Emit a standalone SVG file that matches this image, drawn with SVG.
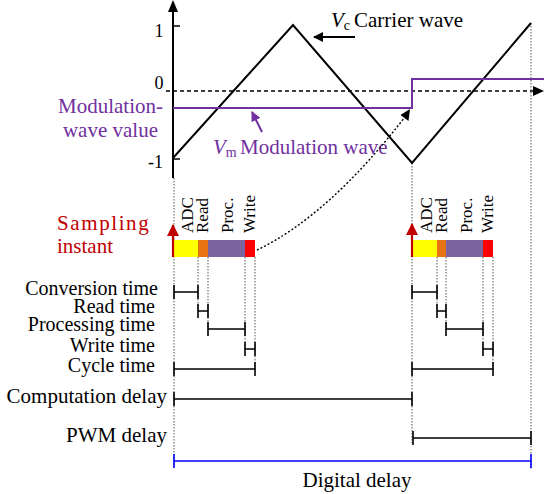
<svg xmlns="http://www.w3.org/2000/svg" width="544" height="494" viewBox="0 0 544 494">
<style>
text{font-family:"Liberation Serif","Times New Roman",serif;fill:#000}
.lbl{font-size:21px}
.stk{font-size:20px}
.num{font-size:18px}
.rot{font-size:17px}
.pur{fill:#7030A0}
.red{fill:#C00000}
.dot{stroke:#555;stroke-width:1;stroke-dasharray:1.5 1.5;fill:none}
.br{stroke:#000;stroke-width:1.6;fill:none}
.wave{stroke:#000;stroke-width:2;fill:none}
</style>
<defs>
<marker id="ahB" markerWidth="10" markerHeight="10" refX="9" refY="5" orient="auto" markerUnits="userSpaceOnUse"><path d="M0,0 L10,5 L0,10 Z" fill="#000"/></marker>
<marker id="ahP" markerWidth="10" markerHeight="10" refX="9" refY="5" orient="auto" markerUnits="userSpaceOnUse"><path d="M0,0 L10,5 L0,10 Z" fill="#7030A0"/></marker>
<marker id="ahR" markerWidth="12" markerHeight="12" refX="11" refY="6" orient="auto" markerUnits="userSpaceOnUse"><path d="M0,0 L12,6 L0,12 Z" fill="#C00000"/></marker>
</defs>

<!-- dotted guide lines -->
<g id="guides">
<line class="dot" x1="174" y1="178" x2="174" y2="467"/>
<line class="dot" x1="198" y1="257" x2="198" y2="311"/>
<line class="dot" x1="208" y1="257" x2="208" y2="330"/>
<line class="dot" x1="245" y1="257" x2="245" y2="350"/>
<line class="dot" x1="255" y1="257" x2="255" y2="370"/>
<line class="dot" x1="412" y1="163" x2="412" y2="443"/>
<line class="dot" x1="437" y1="257" x2="437" y2="311"/>
<line class="dot" x1="446" y1="257" x2="446" y2="330"/>
<line class="dot" x1="483" y1="257" x2="483" y2="350"/>
<line class="dot" x1="493" y1="257" x2="493" y2="370"/>
<line class="dot" x1="531" y1="23" x2="531" y2="470"/>
</g>

<!-- axes -->
<g id="axes">
<line x1="173" y1="178" x2="173" y2="10" stroke="#000" stroke-width="2"/>
<path d="M173,0 L168,12 L178,12 Z" fill="#000"/>
<line x1="173" y1="26" x2="180" y2="26" stroke="#000" stroke-width="1.5"/>
<line x1="173" y1="159" x2="180" y2="159" stroke="#000" stroke-width="1.5"/>
<line x1="166" y1="91" x2="534" y2="91" stroke="#000" stroke-width="1.6" stroke-dasharray="4 3"/>
<path d="M544,91 L533,86 L533,96 Z" fill="#000"/>
<text class="num" x="159" y="37" text-anchor="middle">1</text>
<text class="num" x="159" y="89" text-anchor="middle">0</text>
<text class="num" x="163" y="168" text-anchor="end">-1</text>
</g>

<!-- waves -->
<g id="carrier">
<polyline class="wave" points="173,158 293,25 412,163 531,23"/>
<line x1="355" y1="37" x2="314" y2="37" stroke="#000" stroke-width="2" marker-end="url(#ahB)"/>
<text class="lbl" x="331" y="27"><tspan font-style="italic">V</tspan><tspan font-size="14" dy="3">c</tspan><tspan x="354" dy="-3">Carrier wave</tspan></text>
</g>
<g id="modulation">
<polyline points="173,108 412,108 412,79 544,79" fill="none" stroke="#7030A0" stroke-width="2"/>
<line x1="262" y1="132" x2="252" y2="112" stroke="#7030A0" stroke-width="2" marker-end="url(#ahP)"/>
<text class="lbl pur" x="213" y="154"><tspan font-style="italic">V</tspan><tspan font-size="14" dy="3">m</tspan><tspan x="240" dy="-3">Modulation wave</tspan></text>
<text class="lbl pur" x="163" y="113" text-anchor="end">Modulation-</text>
<text class="lbl pur" x="158" y="137" text-anchor="end">wave value</text>
</g>

<!-- update arrow -->
<g id="connectors">
<path d="M257,250 Q330,215 408,113" fill="none" stroke="#000" stroke-width="1.4" stroke-dasharray="2 2"/>
<path d="M410,109 L408.5,121 L400.5,115 Z" fill="#000"/>
</g>

<!-- sampling label -->
<g id="sampling">
<text class="lbl red" x="57" y="230" letter-spacing="1.6">Sampling</text>
<text class="lbl red" x="57" y="253">instant</text>
</g>

<!-- cycle 1 -->
<g id="cycle1">
<rect x="173" y="240" width="25" height="17" fill="#FFFF00"/>
<rect x="198" y="240" width="10" height="17" fill="#E97414"/>
<rect x="208" y="240" width="37" height="17" fill="#7B64A0"/>
<rect x="245" y="240" width="10" height="17" fill="#FF0000"/>
<line x1="173" y1="257" x2="173" y2="225" stroke="#C00000" stroke-width="2.2" marker-end="url(#ahR)"/>
<text class="rot" transform="translate(193,233) rotate(-90)">ADC</text>
<text class="rot" transform="translate(208,233) rotate(-90)">Read</text>
<text class="rot" transform="translate(233,233) rotate(-90)">Proc.</text>
<text class="rot" transform="translate(255,233) rotate(-90)">Write</text>
</g>

<!-- cycle 2 -->
<g id="cycle2">
<rect x="412" y="240" width="25" height="17" fill="#FFFF00"/>
<rect x="437" y="240" width="9" height="17" fill="#E97414"/>
<rect x="446" y="240" width="37" height="17" fill="#7B64A0"/>
<rect x="483" y="240" width="10" height="17" fill="#FF0000"/>
<line x1="412" y1="257" x2="412" y2="224" stroke="#C00000" stroke-width="2.2" marker-end="url(#ahR)"/>
<text class="rot" transform="translate(432,233) rotate(-90)">ADC</text>
<text class="rot" transform="translate(447,233) rotate(-90)">Read</text>
<text class="rot" transform="translate(472,233) rotate(-90)">Proc.</text>
<text class="rot" transform="translate(493,233) rotate(-90)">Write</text>
</g>

<!-- timing brackets -->
<g id="brackets">
<path class="br" d="M174,285 V299 M174,292 H198 M198,285 V299"/>
<path class="br" d="M198,304 V318 M198,311 H208 M208,304 V318"/>
<path class="br" d="M208,322 V336 M208,329 H245 M245,322 V336"/>
<path class="br" d="M245,342 V356 M245,349 H255 M255,342 V356"/>
<path class="br" d="M174,362 V376 M174,369 H255 M255,362 V376"/>
<path class="br" d="M412,285 V299 M412,292 H437 M437,285 V299"/>
<path class="br" d="M437,304 V318 M437,311 H446 M446,304 V318"/>
<path class="br" d="M446,322 V336 M446,329 H483 M483,322 V336"/>
<path class="br" d="M483,342 V356 M483,349 H493 M493,342 V356"/>
<path class="br" d="M412,362 V376 M412,369 H493 M493,362 V376"/>
<path class="br" d="M174,392 V406 M174,399 H412 M412,392 V406"/>
<path class="br" d="M413,431 V445 M413,438 H531 M531,431 V445"/>
<path d="M174,454 V468 M174,461 H531 M531,454 V468" stroke="#0000FF" stroke-width="1.6" fill="none"/>
</g>

<g id="labels">
<text class="stk" x="158" y="295" text-anchor="end">Conversion time</text>
<text class="stk" x="155" y="313" text-anchor="end">Read time</text>
<text class="stk" x="155" y="331" text-anchor="end">Processing time</text>
<text class="stk" x="155" y="352" text-anchor="end">Write time</text>
<text class="stk" x="155" y="372" text-anchor="end">Cycle time</text>
<text class="lbl" x="167" y="403" text-anchor="end">Computation delay</text>
<text class="lbl" x="167" y="442" text-anchor="end">PWM delay</text>
<text class="lbl" x="357" y="487" text-anchor="middle">Digital delay</text>
</g>
</svg>
